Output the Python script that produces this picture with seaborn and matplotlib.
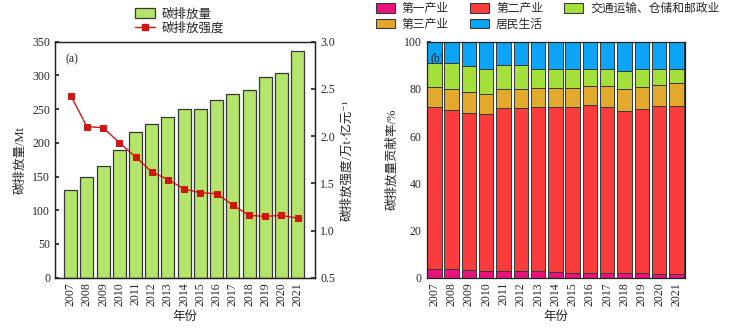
import numpy as np
import pandas as pd
import matplotlib
matplotlib.use("Agg")
import matplotlib.pyplot as plt
import seaborn as sns
from matplotlib.patches import Patch
from matplotlib.lines import Line2D

sns.set_theme(style="white")
plt.rcParams['font.family'] = ['Liberation Serif', 'Noto Sans CJK SC', 'DejaVu Serif']
plt.rcParams['axes.unicode_minus'] = False

years = ['2007', '2008', '2009', '2010', '2011', '2012', '2013', '2014',
         '2015', '2016', '2017', '2018', '2019', '2020', '2021']

# carbon emissions (Mt)
emissions = [130, 150, 166, 190, 216, 228, 238, 250, 250, 263, 272, 279, 297, 303, 336]
# carbon intensity (10k t per 100M yuan)
intensity = [2.43, 2.10, 2.09, 1.93, 1.78, 1.62, 1.54, 1.44, 1.40, 1.39,
             1.27, 1.16, 1.15, 1.16, 1.13]

# sector contribution shares (%)
sectors = ['第一产业', '第二产业', '第三产业', '交通运输、仓储和邮政业', '居民生活']
primary = [3.9, 3.5, 3.1, 3.0, 2.8, 2.7, 2.7, 2.3, 2.1, 2.1, 2.1, 2.0, 1.8, 1.7, 1.6]
secondary = [68.6, 67.4, 66.7, 66.4, 69.1, 69.1, 69.5, 69.9, 70.1, 70.9, 70.4, 68.8, 69.8, 70.9, 71.3]
tertiary = [8.4, 9.0, 8.7, 8.4, 8.2, 8.3, 8.2, 8.2, 8.3, 8.4, 8.7, 9.3, 9.3, 9.2, 9.7]
transport = [10.2, 10.9, 11.2, 10.8, 10.2, 10.0, 8.0, 8.0, 7.9, 7.2, 7.1, 7.6, 7.4, 6.5, 6.0]
residential = [8.9, 9.2, 10.3, 11.4, 9.7, 9.9, 11.6, 11.6, 11.6, 11.4, 11.7, 12.3, 11.7, 11.7, 11.4]

sector_colors = ['#e8137c', '#fb3b3c', '#e3a92c', '#a3e03a', '#0ca4f6']
bar_green = '#b5e46a'
line_red = '#d01515'
edge = '#383838'

fig = plt.figure(figsize=(7.33, 3.31), dpi=100)
ax1 = fig.add_axes([0.075, 0.161, 0.355, 0.713])
ax3 = fig.add_axes([0.582, 0.161, 0.353, 0.713])

fs_tick = 8.5
fs_lab = 9

# ---- (a) emissions and intensity ----
df_a = pd.DataFrame({'year': years, 'emissions': emissions})
sns.barplot(data=df_a, x='year', y='emissions', color=bar_green, width=0.8,
            edgecolor=edge, linewidth=0.9, saturation=1, ax=ax1)
ax1.set_ylim(0, 350)
ax1.set_yticks(np.arange(0, 351, 50))
ax1.set_xlim(-0.97, len(years) + 0.08)
ax1.set_xlabel('年份', fontsize=fs_lab)
ax1.set_ylabel('碳排放量/Mt', fontsize=fs_lab)
ax1.tick_params(axis='x', labelrotation=90, labelsize=fs_tick, length=0, pad=3)
ax1.tick_params(axis='y', labelsize=fs_tick, direction='in', length=3, left=True)
ax1.text(0.04, 0.95, '(a)', transform=ax1.transAxes, fontsize=fs_tick, va='top')

ax2 = ax1.twinx()
sns.lineplot(x=np.arange(len(years)), y=intensity, color=line_red, marker='s',
             markersize=4.5, markeredgecolor=line_red, linewidth=1.0, ax=ax2)
ax2.set_ylim(0.5, 3.0)
ax2.set_yticks(np.arange(0.5, 3.01, 0.5))
ax2.set_yticklabels([f'{v:.1f}' for v in np.arange(0.5, 3.01, 0.5)])
ax2.set_ylabel('碳排放强度/万t·亿元\u207b\u00b9', fontsize=fs_lab)
ax2.tick_params(axis='y', labelsize=fs_tick, direction='in', length=3, right=True)

for a in (ax1, ax2):
    for s in a.spines.values():
        s.set_color('#222222')
        s.set_linewidth(0.9)

handles_a = [Patch(facecolor=bar_green, edgecolor=edge, linewidth=0.9),
             Line2D([0], [0], color=line_red, marker='s', markersize=4, linewidth=1.0)]
fig.legend(handles_a, ['碳排放量', '碳排放强度'], loc='center', bbox_to_anchor=(0.245, 0.935),
           ncol=1, frameon=False, fontsize=fs_lab, handlelength=1.6, handleheight=0.9,
           labelspacing=0.15, borderpad=0.1, handletextpad=0.5)

# ---- (b) sector shares ----
records = []
for name, vals in zip(sectors, [primary, secondary, tertiary, transport, residential]):
    for y, v in zip(years, vals):
        records.append({'year': y, 'sector': name, 'share': v})
df_b = pd.DataFrame(records)

bottom = np.zeros(len(years))
for name, col in zip(sectors, sector_colors):
    sub = df_b[df_b['sector'] == name].set_index('year').loc[years]
    vals = sub['share'].to_numpy()
    ax3.bar(np.arange(len(years)), vals, bottom=bottom, width=0.84, color=col,
            edgecolor=edge, linewidth=0.7)
    bottom += vals

ax3.set_ylim(0, 100)
ax3.set_yticks(np.arange(0, 101, 20))
ax3.set_xlim(-0.45, len(years) - 0.48)
ax3.set_xticks(np.arange(len(years)))
ax3.set_xticklabels(years)
ax3.set_xlabel('年份', fontsize=fs_lab)
ax3.set_ylabel('碳排放量贡献率/%', fontsize=fs_lab)
ax3.tick_params(axis='x', labelrotation=90, labelsize=fs_tick, length=0, pad=3)
ax3.tick_params(axis='y', labelsize=fs_tick, direction='in', length=3, left=True)
ax3.text(0.015, 0.955, '(b)', transform=ax3.transAxes, fontsize=fs_tick, va='top')
for s in ax3.spines.values():
    s.set_color('#222222')
    s.set_linewidth(0.9)

handles_b = [Patch(facecolor=c, edgecolor=edge, linewidth=0.8) for c in sector_colors]
order = [0, 2, 1, 4, 3]
fig.legend([handles_b[i] for i in order], [sectors[i] for i in order],
           loc='upper left', bbox_to_anchor=(0.503, 1.012), ncol=3, frameon=False,
           fontsize=8.5, handlelength=1.6, handleheight=0.8, labelspacing=0.3,
           columnspacing=1.8, handletextpad=0.6, borderpad=0.1)

fig.savefig('out.png', dpi=100)
